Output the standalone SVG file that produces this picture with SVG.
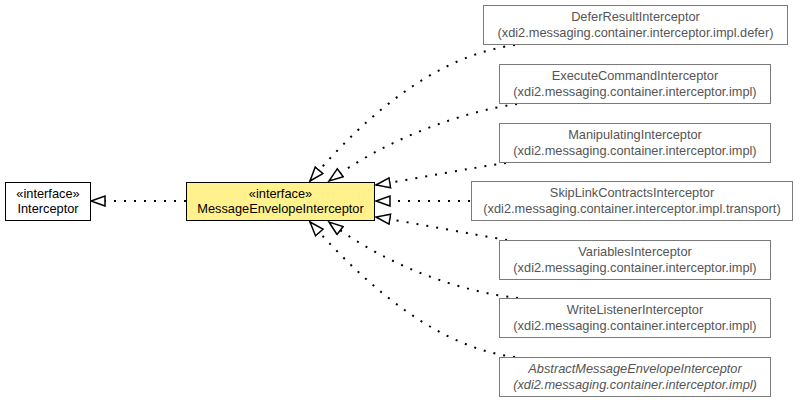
<svg xmlns="http://www.w3.org/2000/svg" width="803" height="403" viewBox="0 0 803 403">
<style>
  text { font-family: "Liberation Sans", Arial, sans-serif; font-size: 12.8px; text-anchor: middle; }
  .main rect { fill: #ffffff; stroke: #000000; stroke-width: 1; }
  .main text { fill: #000000; }
  .cur rect { fill: #fff28c; stroke: #000000; stroke-width: 1; }
  .cur text { fill: #000000; }
  .sub rect { fill: #ffffff; stroke: #7a7a7a; stroke-width: 1; }
  .sub text { fill: #555555; }
  .it { font-style: italic; }
  .edge { fill: none; stroke: #000000; stroke-width: 2; stroke-dasharray: 2 8; marker-end: url(#tri); }
</style>
<defs>
  <marker id="tri" markerUnits="userSpaceOnUse" markerWidth="18" markerHeight="14" refX="15" refY="6" orient="auto">
    <path d="M1,1 L15,6 L1,11 Z" fill="#ffffff" stroke="#000000" stroke-width="1.5"/>
  </marker>
</defs>
<rect width="803" height="403" fill="#ffffff"/>
<g id="connectors">
  <path class="edge" d="M186,201 L91,201"/>
  <path class="edge" d="M515,45 C440,55 370,110 310,181"/>
  <path class="edge" d="M517,104 C460,112 385,140 329,181"/>
  <path class="edge" d="M506,163 C470,168 420,178 376,185"/>
  <path class="edge" d="M470,201 L376,201"/>
  <path class="edge" d="M507,240 C470,234 420,224 376,217"/>
  <path class="edge" d="M518,298 C460,292 385,265 329,222"/>
  <path class="edge" d="M515,357 C440,348 370,290 310,222"/>
</g>
<g id="Interceptor" class="main">
  <rect x="5.5" y="182.5" width="85" height="38"/>
  <text x="48" y="198">«interface»</text>
  <text x="48" y="213">Interceptor</text>
</g>
<g id="MessageEnvelopeInterceptor" class="cur">
  <rect x="186.5" y="182.5" width="188" height="38"/>
  <text x="280.5" y="198">«interface»</text>
  <text x="280.5" y="213">MessageEnvelopeInterceptor</text>
</g>
<g id="DeferResultInterceptor" class="sub">
  <rect x="483.5" y="5.5" width="304" height="39"/>
  <text x="635.5" y="21">DeferResultInterceptor</text>
  <text x="635.5" y="37">(xdi2.messaging.container.interceptor.impl.defer)</text>
</g>
<g id="ExecuteCommandInterceptor" class="sub">
  <rect x="499.5" y="64.5" width="271" height="39"/>
  <text x="635" y="80">ExecuteCommandInterceptor</text>
  <text x="635" y="96">(xdi2.messaging.container.interceptor.impl)</text>
</g>
<g id="ManipulatingInterceptor" class="sub">
  <rect x="499.5" y="123.5" width="271" height="39"/>
  <text x="635" y="139">ManipulatingInterceptor</text>
  <text x="635" y="155">(xdi2.messaging.container.interceptor.impl)</text>
</g>
<g id="SkipLinkContractsInterceptor" class="sub">
  <rect x="471.5" y="181.5" width="321" height="39"/>
  <text x="632" y="197">SkipLinkContractsInterceptor</text>
  <text x="632" y="213">(xdi2.messaging.container.interceptor.impl.transport)</text>
</g>
<g id="VariablesInterceptor" class="sub">
  <rect x="499.5" y="240.5" width="271" height="39"/>
  <text x="635" y="256">VariablesInterceptor</text>
  <text x="635" y="272">(xdi2.messaging.container.interceptor.impl)</text>
</g>
<g id="WriteListenerInterceptor" class="sub">
  <rect x="499.5" y="298.5" width="271" height="39"/>
  <text x="635" y="314">WriteListenerInterceptor</text>
  <text x="635" y="330">(xdi2.messaging.container.interceptor.impl)</text>
</g>
<g id="AbstractMessageEnvelopeInterceptor" class="sub">
  <rect x="499.5" y="357.5" width="271" height="39"/>
  <text class="it" x="635" y="373">AbstractMessageEnvelopeInterceptor</text>
  <text class="it" x="635" y="389">(xdi2.messaging.container.interceptor.impl)</text>
</g>
</svg>
